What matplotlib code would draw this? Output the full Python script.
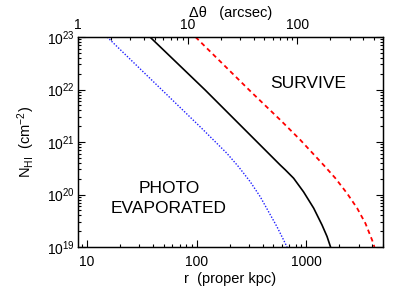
import numpy as np
import matplotlib
matplotlib.use('Agg')
import matplotlib.pyplot as plt
from matplotlib.ticker import LogLocator, FixedLocator, NullFormatter, FuncFormatter

plt.rcParams['font.family'] = ['Liberation Sans', 'DejaVu Sans']
plt.rcParams['mathtext.fontset'] = 'custom'
plt.rcParams['mathtext.rm'] = 'Liberation Sans'
plt.rcParams['mathtext.it'] = 'Liberation Sans:italic'
plt.rcParams['mathtext.default'] = 'regular'

# r in proper kpc, log10 N_HI in cm^-2
r_blue = [15.3, 111.4, 188.8, 241, 308, 380, 453, 540, 621, 667]
logN_blue = [23.0, 21.26, 20.785, 20.53, 20.244, 19.958, 19.672, 19.387, 19.133, 19.0]

r_black = [37.6, 119.7, 579, 643, 766, 944, 1167, 1390, 1545, 1663]
logN_black = [23.0, 21.99, 20.56, 20.47, 20.31, 20.05, 19.74, 19.42, 19.20, 19.0]

r_red = [97.7, 319, 579, 881, 1439, 1841, 2355, 2904, 3459, 3981, 4178]
logN_red = [23.0, 21.94, 21.42, 21.04, 20.56, 20.31, 20.02, 19.74, 19.45, 19.13, 19.0]

kpc_per_arcsec = 8.3
xlim = (8.3, 5000)
ylim = (1e19, 1e23)

fig = plt.figure(figsize=(4.15, 2.97), dpi=100)
ax = fig.add_axes([78/415, 50/297, 305/415, 210/297])

ax.plot(r_blue, 10**np.array(logN_blue), color='#2020ff', lw=1.0, linestyle=(0, (1, 1.2)))
ax.plot(r_black, 10**np.array(logN_black), color='black', lw=1.2)
ax.plot(r_red, 10**np.array(logN_red), color='red', lw=1.3, linestyle=(0, (2.5, 2)))

ax.set_xscale('log')
ax.set_yscale('log')
ax.set_xlim(xlim)
ax.set_ylim(ylim)

def pow10(v, pos):
    return r'$10^{%d}$' % int(round(np.log10(v)))

ax.yaxis.set_major_locator(FixedLocator([1e19, 1e20, 1e21, 1e22, 1e23]))
ax.yaxis.set_major_formatter(FuncFormatter(pow10))
ax.yaxis.set_minor_locator(LogLocator(base=10, subs=np.arange(2, 10), numticks=20))
ax.yaxis.set_minor_formatter(NullFormatter())
ax.xaxis.set_major_locator(FixedLocator([10, 100, 1000]))
ax.xaxis.set_major_formatter(FuncFormatter(lambda v, p: '%d' % v))
ax.xaxis.set_minor_locator(LogLocator(base=10, subs=np.arange(2, 10), numticks=20))
ax.xaxis.set_minor_formatter(NullFormatter())

ax.tick_params(which='both', direction='in', right=True, top=False, labelsize=10, width=0.8)
ax.tick_params(which='major', length=5)
ax.tick_params(which='minor', length=2.5)
ax.tick_params(axis='x', pad=6)
ax.tick_params(axis='y', pad=2)

ax2 = ax.twiny()
ax2.set_xscale('log')
ax2.set_xlim(xlim[0]/kpc_per_arcsec, xlim[1]/kpc_per_arcsec)
ax2.xaxis.set_major_locator(FixedLocator([1, 10, 100]))
ax2.xaxis.set_major_formatter(FuncFormatter(lambda v, p: '%d' % v))
ax2.xaxis.set_minor_locator(LogLocator(base=10, subs=np.arange(2, 10), numticks=20))
ax2.xaxis.set_minor_formatter(NullFormatter())
ax2.tick_params(which='both', direction='in', labelsize=10, width=0.8, pad=3.5)
ax2.tick_params(which='major', length=5)
ax2.tick_params(which='minor', length=2.5)

for a in (ax, ax2):
    for s in a.spines.values():
        s.set_linewidth(0.9)

ax.set_xlabel('r  (proper kpc)', fontsize=10.5, labelpad=2)
ax.set_ylabel(r'N$_{\rm HI}$  (cm$^{-2}$)', fontsize=10.5, labelpad=7)
ax2.set_xlabel('Δθ   (arcsec)', fontsize=10.5, labelpad=1)

ax.text(0.755, 0.78, 'SURVIVE', transform=ax.transAxes, fontsize=12.5, ha='center', va='center')
ax.text(0.298, 0.232, 'PHOTO\nEVAPORATED', transform=ax.transAxes, fontsize=12.5,
        ha='center', va='center', linespacing=1.45)

fig.savefig('out.png', dpi=100)
